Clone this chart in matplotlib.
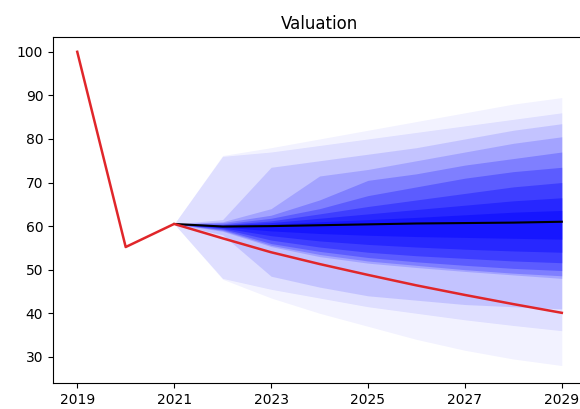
import matplotlib
matplotlib.use("Agg")
import matplotlib.pyplot as plt

# historical + projected valuation
years_hist = [2019, 2020, 2021]
value_hist = [100.0, 55.2, 60.5]

years_proj = [2021, 2022, 2023, 2024, 2025, 2026, 2027, 2028, 2029]
median_proj = [60.5, 59.9, 60.0, 60.2, 60.4, 60.6, 60.7, 60.8, 61.0]
base_proj = [60.5, 57.2, 54.0, 51.3, 48.8, 46.4, 44.2, 42.1, 40.1]

# percentile bands, outermost first
band_upper = [
    [60.5, 76.2, 78.0, 80.0, 82.0, 84.0, 86.0, 88.0, 89.5],
    [60.5, 76.0, 77.0, 78.5, 80.0, 81.5, 83.0, 84.5, 86.0],
    [60.5, 61.5, 73.5, 75.0, 76.5, 78.0, 80.0, 82.0, 83.5],
    [60.5, 61.0, 64.0, 71.5, 73.0, 75.0, 77.0, 79.0, 80.5],
    [60.5, 60.8, 62.5, 66.0, 70.5, 72.0, 74.0, 75.5, 77.0],
    [60.5, 60.5, 61.8, 64.0, 67.0, 69.0, 71.0, 72.5, 73.5],
    [60.5, 60.3, 61.2, 62.8, 64.5, 66.0, 67.5, 69.0, 70.0],
    [60.5, 60.2, 60.8, 61.8, 62.8, 63.8, 64.8, 65.8, 66.5],
    [60.5, 60.0, 60.4, 61.0, 61.5, 62.0, 62.6, 63.2, 63.6],
]
band_lower = [
    [60.5, 47.8, 43.5, 40.0, 37.0, 34.0, 31.5, 29.5, 28.0],
    [60.5, 48.0, 45.5, 43.5, 41.5, 40.0, 38.5, 37.2, 36.0],
    [60.5, 58.0, 48.5, 46.0, 44.0, 43.0, 42.0, 41.5, 41.0],
    [60.5, 58.8, 55.3, 53.0, 51.5, 50.5, 49.6, 48.8, 48.0],
    [60.5, 59.0, 55.6, 53.5, 52.0, 51.0, 50.0, 49.2, 48.6],
    [60.5, 59.2, 56.0, 54.2, 52.8, 51.8, 51.0, 50.3, 49.8],
    [60.5, 59.4, 56.8, 55.2, 54.0, 53.2, 52.6, 52.0, 51.6],
    [60.5, 59.6, 57.8, 56.6, 55.8, 55.2, 54.7, 54.3, 54.0],
    [60.5, 59.8, 58.9, 58.3, 57.9, 57.6, 57.4, 57.2, 57.0],
]
band_alpha = [0.05, 0.08, 0.12, 0.16, 0.22, 0.27, 0.32, 0.37, 0.42]

fig = plt.figure(figsize=(5.8, 4.09), dpi=100)
ax = fig.add_axes([0.0914, 0.0636, 0.919, 0.846])

for lo, hi, a in zip(band_lower, band_upper, band_alpha):
    ax.fill_between(years_proj, lo, hi, color="blue", alpha=a, linewidth=0)

ax.plot(years_proj, median_proj, color="black", linewidth=1.5)
ax.plot(years_hist + years_proj[1:], value_hist + base_proj[1:], color="#e0262a", linewidth=1.8)

ax.set_title("Valuation")
ax.set_xlim(2018.5, 2029.5)
ax.set_ylim(24.0, 103.4)
ax.set_xticks([2019, 2021, 2023, 2025, 2027, 2029])
ax.set_yticks([30, 40, 50, 60, 70, 80, 90, 100])

fig.savefig("out.png", dpi=100)
